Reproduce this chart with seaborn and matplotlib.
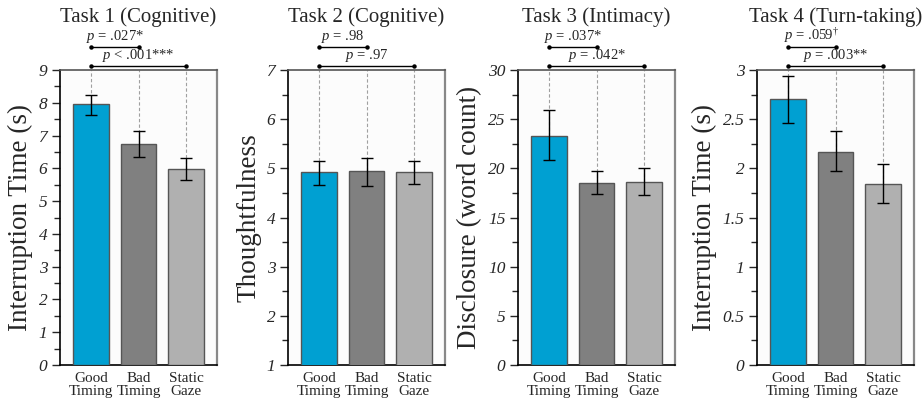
import numpy as np
import pandas as pd
import matplotlib
matplotlib.use("Agg")
import matplotlib.pyplot as plt
import matplotlib.transforms as mtransforms
from matplotlib.ticker import MultipleLocator, FormatStrFormatter
import seaborn as sns

# --- data ---
conditions = ["Good\nTiming", "Bad\nTiming", "Static\nGaze"]
titles = ["Task 1 (Cognitive)", "Task 2 (Cognitive)", "Task 3 (Intimacy)", "Task 4 (Turn-taking)"]
ylabels = ["Interruption Time (s)", "Thoughtfulness", "Disclosure (word count)", "Interruption Time (s)"]

task1_mean = [7.95, 6.75, 5.97]
task1_low = [7.63, 6.36, 5.65]
task1_high = [8.24, 7.13, 6.31]

task2_mean = [4.93, 4.94, 4.93]
task2_low = [4.67, 4.65, 4.69]
task2_high = [5.14, 5.21, 5.15]

task3_mean = [23.3, 18.55, 18.65]
task3_low = [20.8, 17.35, 17.3]
task3_high = [25.9, 19.75, 20.0]

task4_mean = [2.71, 2.17, 1.84]
task4_low = [2.46, 1.97, 1.65]
task4_high = [2.94, 2.38, 2.04]

ylims = [(0, 9), (1, 7), (0, 30), (0, 3)]
major_steps = [1, 1, 5, 0.5]

p_short = ["= .027*", "= .98", "= .037*", "= .059$^{\u2020}$"]
p_long = ["< .001***", "= .97", "= .042*", "= .003**"]

means = [task1_mean, task2_mean, task3_mean, task4_mean]
lows = [task1_low, task2_low, task3_low, task4_low]
highs = [task1_high, task2_high, task3_high, task4_high]

bar_colors = ["#00a0d2", "#808080", "#b0b0b0"]

sns.set_style("ticks")
plt.rcParams["font.family"] = ["Liberation Serif", "DejaVu Serif"]
plt.rcParams["mathtext.fontset"] = "custom"
plt.rcParams["mathtext.rm"] = "Liberation Serif"
plt.rcParams["mathtext.it"] = "Liberation Serif:italic"

fig = plt.figure(figsize=(9.23, 4.01), dpi=100)
W, H = 923, 401
lefts = [60, 288, 518, 757]
ax_w = 157
top_px, bot_px = 70, 365

for i in range(4):
    ax = fig.add_axes([lefts[i] / W, 1 - bot_px / H, ax_w / W, (bot_px - top_px) / H])
    df = pd.DataFrame({"cond": conditions, "val": means[i]})
    sns.barplot(data=df, x="cond", y="val", hue="cond", palette=bar_colors, saturation=1,
                width=0.74, edgecolor="#555555", linewidth=1.0, legend=False, ax=ax, zorder=3)
    m = np.array(means[i])
    yerr = np.vstack([m - np.array(lows[i]), np.array(highs[i]) - m])
    ax.errorbar(range(3), m, yerr=yerr, fmt="none", ecolor="black",
                elinewidth=1.0, capsize=4.5, capthick=1.0, zorder=4)
    y0, y1 = ylims[i]
    for j in range(3):
        ax.plot([j, j], [m[j], y1], ls=(0, (3, 2)), color="#a0a0a0", lw=0.8, zorder=2)
    ax.set_xlim(-0.65, 2.65)
    ax.set_ylim(y0, y1)
    ax.set_facecolor("#fcfcfc")
    ax.yaxis.set_major_locator(MultipleLocator(major_steps[i]))
    ax.yaxis.set_minor_locator(MultipleLocator(major_steps[i] / 2))
    ax.yaxis.set_major_formatter(FormatStrFormatter("%g"))
    ax.tick_params(axis="y", which="major", length=6, width=1, labelsize=12.5, pad=3)
    ax.tick_params(axis="y", which="minor", length=4, width=1)
    ax.tick_params(axis="x", length=0, labelsize=11, pad=5)
    for lab in ax.get_yticklabels():
        lab.set_fontstyle("italic")
    for lab in ax.get_xticklabels():
        lab.set_linespacing(1.05)
    ax.set_xlabel("")
    ax.set_ylabel(ylabels[i], fontsize=19.5, labelpad=4)
    for s in ["left", "bottom"]:
        ax.spines[s].set_color("black")
        ax.spines[s].set_linewidth(1.2)
    ax.spines["top"].set_visible(True)
    ax.spines["top"].set_color("#555555")
    ax.spines["top"].set_linewidth(1.2)
    ax.spines["right"].set_visible(True)
    ax.spines["right"].set_color("#888888")
    ax.spines["right"].set_linewidth(1.6)
    ax.set_title(titles[i], fontsize=15, y=1.163, pad=0)

    # significance brackets
    trans = mtransforms.blended_transform_factory(ax.transData, ax.transAxes)
    for (xa, xb, yb, txt) in [(0, 1, 1.078, p_short[i]), (0, 2, 1.014, p_long[i])]:
        ax.plot([xa, xb], [yb, yb], color="black", lw=1.0, transform=trans, clip_on=False)
        ax.plot([xa, xb], [yb, yb], ls="none", marker="o", ms=2.2, color="black",
                transform=trans, clip_on=False)
        ax.text((xa + xb) / 2, yb + 0.008, "$\\mathit{p}$ " + txt,
                transform=trans, ha="center", va="bottom", fontsize=10.5)

fig.savefig("out.png", dpi=100)
